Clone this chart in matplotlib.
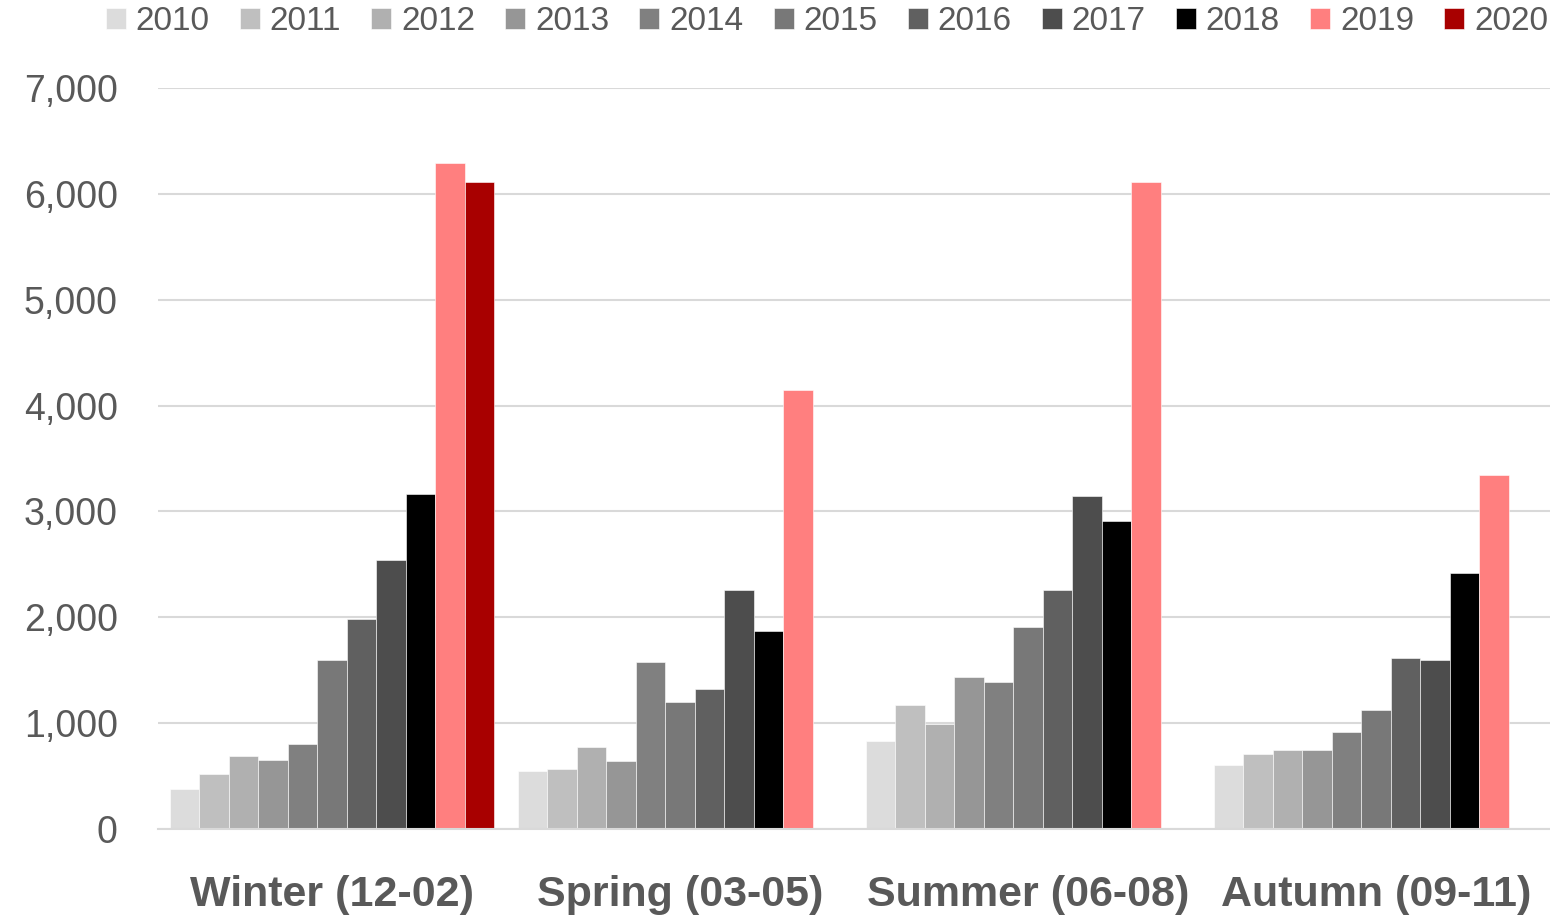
import numpy as np
import matplotlib
matplotlib.use('Agg')
import matplotlib.pyplot as plt
from matplotlib.ticker import FuncFormatter

seasons = ['Winter (12-02)', 'Spring (03-05)', 'Summer (06-08)', 'Autumn (09-11)']
years = ['2010', '2011', '2012', '2013', '2014', '2015', '2016', '2017', '2018', '2019', '2020']
colors = ['#DCDCDC', '#BFBFBF', '#B0B0B0', '#969696', '#808080', '#787878',
          '#606060', '#4D4D4D', '#000000', '#FF7F7F', '#A80000']

# values per year, ordered by season (winter, spring, summer, autumn)
v2010 = [380, 545, 828, 600]
v2011 = [515, 563, 1173, 705]
v2012 = [688, 770, 994, 748]
v2013 = [648, 642, 1435, 748]
v2014 = [806, 1580, 1388, 918]
v2015 = [1598, 1202, 1906, 1120]
v2016 = [1980, 1325, 2253, 1614]
v2017 = [2537, 2260, 3150, 1598]
v2018 = [3166, 1873, 2912, 2420]
v2019 = [6295, 4150, 6115, 3340]
v2020 = [6115, np.nan, np.nan, np.nan]
series = [v2010, v2011, v2012, v2013, v2014, v2015, v2016, v2017, v2018, v2019, v2020]

plt.rcParams['font.family'] = ['Liberation Sans', 'DejaVu Sans']
text_color = '#595959'
grid_color = '#D9D9D9'

fig = plt.figure(figsize=(15.5, 9.22), dpi=100)
ax = fig.add_axes([0.102, 0.1009, 0.898, 0.8037])

x = np.arange(len(seasons))
n = len(series)
w = 0.0848
for i, (vals, c, yr) in enumerate(zip(series, colors, years)):
    off = (i - (n - 1) / 2) * w
    ax.bar(x + off, vals, width=w, color=c, label=yr, zorder=3,
           edgecolor='#FFFFFF', linewidth=0.4)

ax.set_xlim(-0.5, len(seasons) - 0.5)
ax.set_ylim(0, 7000)
ax.set_yticks(range(0, 7001, 1000))
ax.yaxis.set_major_formatter(FuncFormatter(lambda v, p: f'{int(v):,}'))
ax.set_xticks(x)
ax.set_xticklabels(seasons, fontsize=31, fontweight='bold', color=text_color)
ax.tick_params(axis='x', length=0, pad=33)
ax.tick_params(axis='y', length=0, pad=29, labelsize=27, labelcolor=text_color)
ax.grid(axis='y', color=grid_color, linewidth=1.5, zorder=0)
for s in ['left', 'right', 'top']:
    ax.spines[s].set_visible(False)
ax.spines['bottom'].set_color(grid_color)
ax.spines['bottom'].set_linewidth(1.5)
ax.spines['bottom'].set_zorder(4)

leg = fig.legend(loc='upper center', bbox_to_anchor=(0.5335, 1.008), ncol=11,
                 frameon=False, fontsize=24, handlelength=0.6, handleheight=0.6,
                 handletextpad=0.3, columnspacing=0.9, borderaxespad=0)
for t in leg.get_texts():
    t.set_color(text_color)

fig.savefig('out.png', dpi=100)
